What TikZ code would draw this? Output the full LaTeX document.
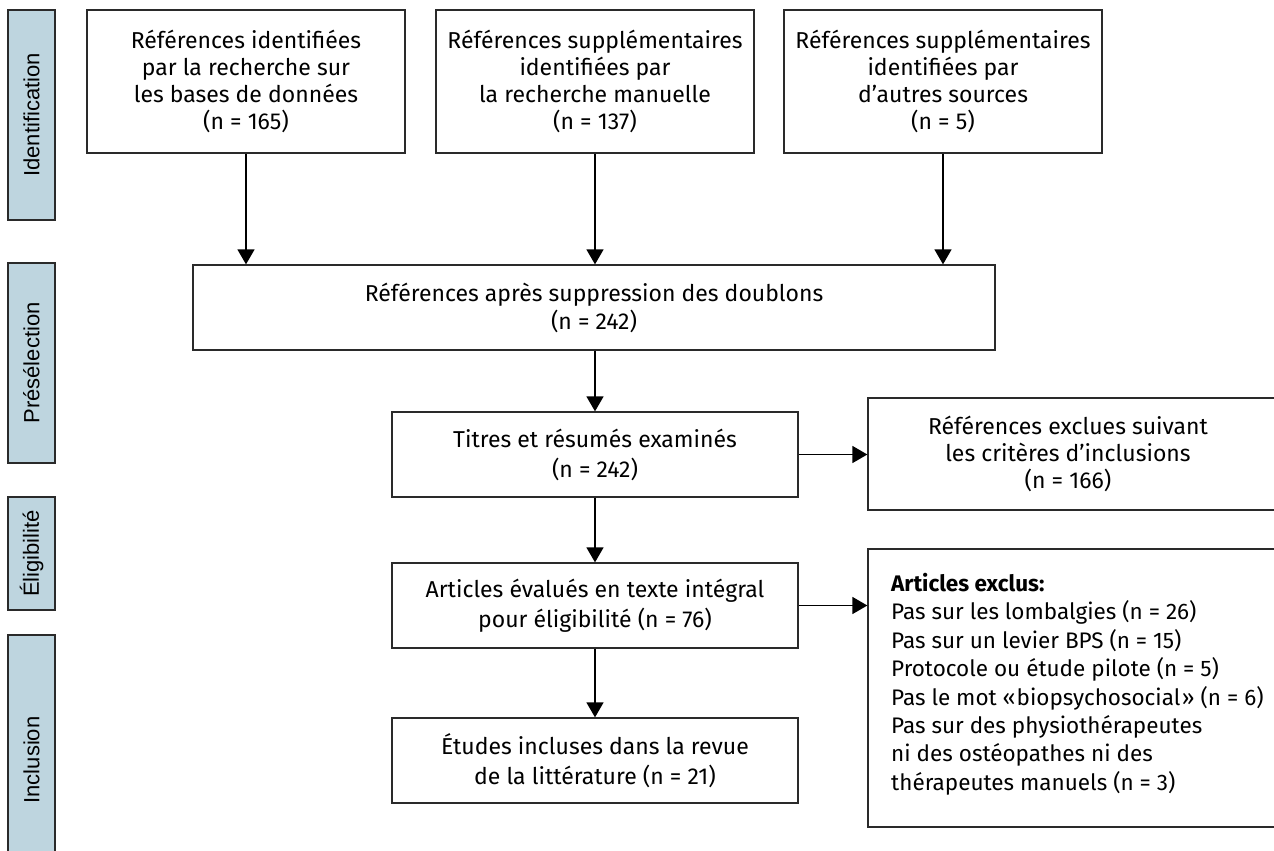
\documentclass[tikz,border=0pt]{standalone}
\usepackage{fontspec}
\setmainfont{Fira Sans}
\newfontfamily\barfont{Liberation Sans}
\usetikzlibrary{arrows.meta}
\definecolor{barblue}{HTML}{BED5DF}
\definecolor{edge}{HTML}{2A2A2A}
\begin{document}
\begin{tikzpicture}[x=1pt,y=-1pt,
  box/.style={draw=edge, line width=1.3pt, fill=white, inner sep=0pt, align=center,
    font=\fontsize{23}{27}\selectfont},
  wbox/.style={box, font=\fontsize{23}{30}\selectfont},
  phase/.style={draw=edge, line width=1.3pt, fill=barblue, inner sep=0pt, rotate=90,
    font=\barfont\fontsize{22}{26}\selectfont},
  arr/.style={line width=1.5pt, -{Triangle[length=15pt,width=17pt]}}]
\useasboundingbox (0,0) rectangle (1274,851);
\clip (0,0) rectangle (1274,851);
\fill[white] (0,0) rectangle (1274,851);

% phase bars
\node[phase, minimum width=210pt, minimum height=47pt] (p1) at (31.5,115) {Identification};
\node[phase, minimum width=200pt, minimum height=47pt] (p2) at (31.5,363) {Présélection};
\node[phase, minimum width=113pt, minimum height=47pt] (p3) at (31.5,553.5) {Éligibilité};
\node[phase, minimum width=250pt, minimum height=47pt] (p4) at (31.5,760) {Inclusion};

% identification boxes
\node[box, minimum width=318pt, minimum height=143pt] (b1) at (246,81.5)
  {Références identifiées\\par la recherche sur\\les bases de données\\(n = 165)};
\node[box, minimum width=318pt, minimum height=143pt] (b2) at (595,81.5)
  {Références supplémentaires\\identifiées par\\la recherche manuelle\\(n = 137)};
\node[box, minimum width=318pt, minimum height=143pt] (b3) at (943,81.5)
  {Références supplémentaires\\identifiées par\\d’autres sources\\(n = 5)};

\node[box, minimum width=802pt, minimum height=85pt, font=\fontsize{23}{28}\selectfont] (dedup) at (594,307.5)
  {Références après suppression des doublons\\(n = 242)};

\node[wbox, minimum width=406pt, minimum height=85pt] (titres) at (595,454.5)
  {Titres et résumés examinés\\(n = 242)};
\node[wbox, minimum width=406pt, minimum height=85pt] (articles) at (595,605.5)
  {Articles évalués en texte intégral\\pour éligibilité (n = 76)};
\node[wbox, minimum width=406pt, minimum height=85pt] (etudes) at (595,760.5)
  {Études incluses dans la revue\\de la littérature (n = 21)};

% exclusion boxes (cut by the right edge)
\node[box, minimum width=432pt, minimum height=112pt] (excl1) at (1084,454) {};
\node[align=center, inner sep=0pt, font=\fontsize{23}{27}\selectfont] (excl1t) at (1068,454)
  {Références exclues suivant\\les critères d’inclusions\\(n = 166)};
\node[box, minimum width=432pt, minimum height=278pt] (excl2) at (1084,688) {};
\node[align=left, inner sep=0pt, anchor=north west, font=\fontsize{22.5}{28.4}\selectfont] (excl2t) at (891,573)
  {\textbf{Articles exclus:}\\
   Pas sur les lombalgies (n = 26)\\
   Pas sur un levier BPS (n = 15)\\
   Protocole ou étude pilote (n = 5)\\
   Pas le mot «\kern1pt biopsychosocial\kern1.5pt» (n = 6)\\
   Pas sur des physiothérapeutes\\
   ni des ostéopathes ni des\\
   thérapeutes manuels (n = 3)};

% connectors
\draw[arr] (b1.south) -- (b1.south |- dedup.north);
\draw[arr] (b2.south) -- (b2.south |- dedup.north);
\draw[arr] (b3.south) -- (b3.south |- dedup.north);
\draw[arr] (dedup.south -| titres.north) -- (titres.north);
\draw[arr] (titres.east) -- (titres.east -| excl1.west);
\draw[arr] (titres.south) -- (articles.north);
\draw[arr] (articles.east) -- (articles.east -| excl2.west);
\draw[arr] (articles.south) -- (etudes.north);
\end{tikzpicture}
\end{document}
